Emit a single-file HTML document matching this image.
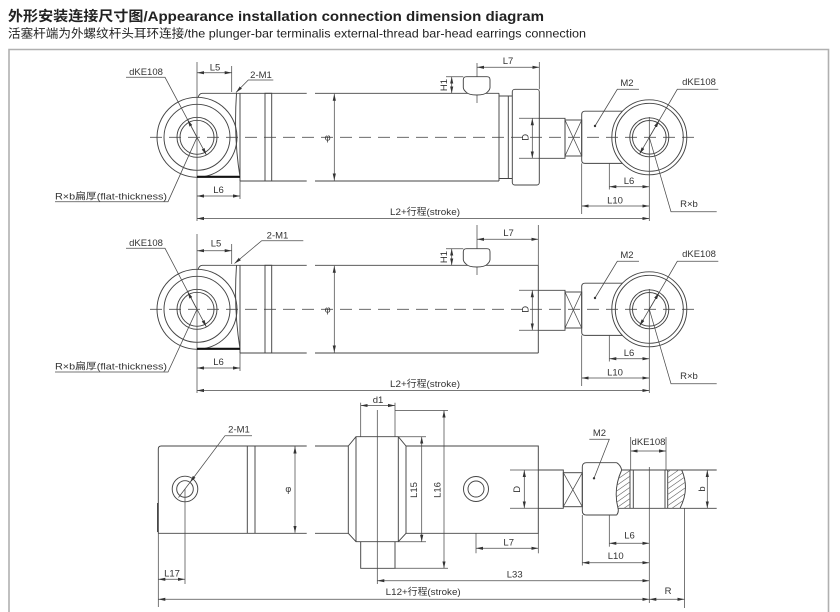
<!DOCTYPE html>
<html><head><meta charset="utf-8"><style>
html,body{margin:0;padding:0;background:#fff}
svg{display:block}
.o{stroke:#444;stroke-width:0.95;fill:none}
.t{stroke:#4a4a4a;stroke-width:0.75;fill:none}
.hh{stroke:#666;stroke-width:0.6;fill:none}
.dm{stroke:#4a4a4a;stroke-width:0.75;fill:none;marker-start:url(#a);marker-end:url(#a)}
.de{stroke:#4a4a4a;stroke-width:0.75;fill:none;marker-end:url(#a)}
.c{stroke:#555;stroke-width:0.8;stroke-dasharray:12 7;fill:none}
text{font-family:"Liberation Sans","Noto Sans CJK SC",sans-serif;font-size:9.5px;fill:#333}
.m{text-anchor:middle}
</style></head><body>
<svg width="840" height="612" viewBox="0 0 840 612" xmlns="http://www.w3.org/2000/svg">
<defs>
<marker id="a" viewBox="0 0 7 4" refX="7" refY="2" markerWidth="7" markerHeight="4" markerUnits="userSpaceOnUse" orient="auto-start-reverse"><path d="M0,0.4L7,2L0,3.6z" fill="#333"/></marker>
<clipPath id="h"><path d="M621.7,470 Q613,489 618,508.3 L630,508.3 L630,470Z M667.7,470 L681.7,470 Q690,489 680,508.3 L667.7,508.3Z"/></clipPath>
</defs>

<text x="8" y="21" font-size="14" font-weight="bold" style="font-size:14px;fill:#222" textLength="536" lengthAdjust="spacingAndGlyphs">外形安装连接尺寸图/Appearance installation connection dimension diagram</text>
<text x="8" y="37.5" style="font-size:12px;fill:#222" textLength="578" lengthAdjust="spacingAndGlyphs">活塞杆端为外螺纹杆头耳环连接/the plunger-bar terminalis external-thread bar-head earrings connection</text>

<path d="M9,612 V49.5 H828.5 V612" stroke="#b0b0b0" stroke-width="1.6" fill="none"/>

<g>
<line class="c" x1="150" y1="137.3" x2="700" y2="137.3"/>
<circle class="o" cx="197" cy="137.3" r="40"/>
<circle class="o" cx="197" cy="137.3" r="33"/>
<circle class="o" cx="197" cy="137.3" r="20"/>
<circle class="o" cx="197" cy="137.3" r="17"/>
<line class="t" x1="197" y1="62" x2="197" y2="221"/>
<path class="o" d="M198,97.6 Q199.2,93.3 202.5,93.3 L306.7,93.3 M315,93.3 L499,93.3 M240,93.3 L240,181 M306.7,181 L240,181 M315,181 L499,181 M236.5,93.3 Q233.5,137 240,176.8"/>
<line x1="197" y1="176.8" x2="240" y2="176.8" stroke="#111" stroke-width="2.2"/>
<rect class="o" x="265" y="93.3" width="6.7" height="87.7"/>
<line class="dm" x1="334.3" y1="93.8" x2="334.3" y2="180.5"/>
<text class="m" x="327.7" y="140.5" style="font-size:9px">φ</text>
<line class="t" x1="477" y1="63" x2="477" y2="103"/>
<path d="M463.3,87.5 L463.3,79.7 Q463.3,76.7 466.5,76.7 L487,76.7 Q490,76.7 490,79.7 L490,87.5 Q490,89.5 487.5,92 Q485,95 476.7,95 Q468.5,95 466,92 Q463.3,89.5 463.3,87.5Z" fill="#fff" stroke="#444" stroke-width="0.95"/>
<line class="t" x1="446" y1="76.7" x2="463.3" y2="76.7"/>
<line class="dm" x1="451.7" y1="76.7" x2="451.7" y2="93.3"/>
<text transform="translate(443.5,85) rotate(-90)" class="m" dy="3.4">H1</text>
<path class="o" d="M538.5,118.3 L565,118.3 L565,158.3 L538.5,158.3"/>
<line class="t" x1="519" y1="118.3" x2="538.5" y2="118.3"/>
<line class="t" x1="519" y1="158.3" x2="538.5" y2="158.3"/>
<line class="dm" x1="532.3" y1="118.3" x2="532.3" y2="158.3"/>
<text transform="translate(525,137.3) rotate(-90)" class="m" dy="3.4">D</text>
<rect class="o" x="565" y="120" width="16.7" height="36"/>
<path class="t" d="M565,120 L581.7,156 M581.7,120 L565,156"/>
<path class="o" d="M622.5,111.2 L585,111.2 Q581.7,111.2 581.7,114.5 L581.7,160.1 Q581.7,163.4 585,163.4 L622.5,163.4"/>
<circle class="o" cx="649.3" cy="137.3" r="37.5"/>
<circle class="o" cx="649.3" cy="137.3" r="34"/>
<circle class="o" cx="649.3" cy="137.3" r="19.5"/>
<circle class="o" cx="649.3" cy="137.3" r="16.8"/>
<line class="t" x1="649.3" y1="117" x2="649.3" y2="221"/>
<path class="t" d="M595,126 L617.3,89.3 L639,89.3"/>
<circle cx="595" cy="126" r="1.2" fill="#333"/>
<text class="m" x="627" y="86">M2</text>
<path class="t" d="M718.3,89.3 L677.3,89.3 L649.3,137.3"/>
<line class="de" x1="649.3" y1="137.3" x2="639.5" y2="154.1"/>
<line class="de" x1="649.3" y1="137.3" x2="659.1" y2="120.5"/>
<text class="m" x="699" y="85">dKE108</text>
<path class="t" d="M649.3,137.3 L671,211.7 L716.7,211.7"/>
<text class="m" x="689" y="207">R×b</text>
<line class="t" x1="609.3" y1="163.4" x2="609.3" y2="189.5"/>
<line class="dm" x1="609.3" y1="186.7" x2="649.3" y2="186.7"/>
<text class="m" x="629" y="184">L6</text>
<line class="t" x1="581.7" y1="163.4" x2="581.7" y2="214"/>
<line class="dm" x1="581.7" y1="206" x2="649.3" y2="206"/>
<text class="m" x="615" y="203.5">L10</text>
<line class="dm" x1="197" y1="218.5" x2="649.3" y2="218.5"/>
<text x="390" y="215" textLength="70" lengthAdjust="spacingAndGlyphs">L2+行程(stroke)</text>
<line class="t" x1="240" y1="181" x2="240" y2="199"/>
<line class="dm" x1="197" y1="196" x2="240" y2="196"/>
<text class="m" x="218.5" y="193">L6</text>
<text class="m" x="146" y="75">dKE108</text>
<path class="t" d="M126,77.3 L165,77.3 L197,137.3"/>
<line class="de" x1="197" y1="137.3" x2="187.6" y2="119.7"/>
<line class="de" x1="197" y1="137.3" x2="206.4" y2="154.9"/>
<text x="55" y="199.3" textLength="112" lengthAdjust="spacingAndGlyphs">R×b扁厚(flat-thickness)</text>
<path class="t" d="M55,201.7 L168,201.7 L197,137.3"/>
</g>

<line class="t" x1="231.7" y1="66" x2="231.7" y2="92"/>
<line class="dm" x1="197" y1="72.7" x2="231.7" y2="72.7"/>
<text class="m" x="215" y="70.3">L5</text>
<path class="de" d="M273.3,80 L248.3,80 L236,92.5"/>
<text class="m" x="261" y="78">2-M1</text>
<path class="o" d="M499,93.3 L499,181 M499,96 L512.3,96 M499,178.5 L512.3,178.5 M508.3,96 L508.3,178.5"/>
<rect class="o" x="512.3" y="89.3" width="27" height="95.7" rx="2.5"/>
<line class="t" x1="539.3" y1="62" x2="539.3" y2="89.3"/>
<line class="dm" x1="477" y1="67.3" x2="539.3" y2="67.3"/>
<text class="m" x="508" y="64">L7</text>

<g transform="translate(0,172)">
<line class="c" x1="150" y1="137.3" x2="700" y2="137.3"/>
<circle class="o" cx="197" cy="137.3" r="40"/>
<circle class="o" cx="197" cy="137.3" r="33"/>
<circle class="o" cx="197" cy="137.3" r="20"/>
<circle class="o" cx="197" cy="137.3" r="17"/>
<line class="t" x1="197" y1="62" x2="197" y2="221"/>
<path class="o" d="M198,97.6 Q199.2,93.3 202.5,93.3 L306.7,93.3 M315,93.3 L499,93.3 M240,93.3 L240,181 M306.7,181 L240,181 M315,181 L499,181 M236.5,93.3 Q233.5,137 240,176.8"/>
<line x1="197" y1="176.8" x2="240" y2="176.8" stroke="#111" stroke-width="2.2"/>
<rect class="o" x="265" y="93.3" width="6.7" height="87.7"/>
<line class="dm" x1="334.3" y1="93.8" x2="334.3" y2="180.5"/>
<text class="m" x="327.7" y="140.5" style="font-size:9px">φ</text>
<line class="t" x1="477" y1="53" x2="477" y2="103"/>
<path d="M463.3,87.5 L463.3,79.7 Q463.3,76.7 466.5,76.7 L487,76.7 Q490,76.7 490,79.7 L490,87.5 Q490,89.5 487.5,92 Q485,95 476.7,95 Q468.5,95 466,92 Q463.3,89.5 463.3,87.5Z" fill="#fff" stroke="#444" stroke-width="0.95"/>
<line class="t" x1="446" y1="76.7" x2="463.3" y2="76.7"/>
<line class="dm" x1="451.7" y1="76.7" x2="451.7" y2="93.3"/>
<text transform="translate(443.5,85) rotate(-90)" class="m" dy="3.4">H1</text>
<path class="o" d="M538.5,118.3 L565,118.3 L565,158.3 L538.5,158.3"/>
<line class="t" x1="519" y1="118.3" x2="538.5" y2="118.3"/>
<line class="t" x1="519" y1="158.3" x2="538.5" y2="158.3"/>
<line class="dm" x1="532.3" y1="118.3" x2="532.3" y2="158.3"/>
<text transform="translate(525,137.3) rotate(-90)" class="m" dy="3.4">D</text>
<rect class="o" x="565" y="120" width="16.7" height="36"/>
<path class="t" d="M565,120 L581.7,156 M581.7,120 L565,156"/>
<path class="o" d="M622.5,111.2 L585,111.2 Q581.7,111.2 581.7,114.5 L581.7,160.1 Q581.7,163.4 585,163.4 L622.5,163.4"/>
<circle class="o" cx="649.3" cy="137.3" r="37.5"/>
<circle class="o" cx="649.3" cy="137.3" r="34"/>
<circle class="o" cx="649.3" cy="137.3" r="19.5"/>
<circle class="o" cx="649.3" cy="137.3" r="16.8"/>
<line class="t" x1="649.3" y1="117" x2="649.3" y2="221"/>
<path class="t" d="M595,126 L617.3,89.3 L639,89.3"/>
<circle cx="595" cy="126" r="1.2" fill="#333"/>
<text class="m" x="627" y="86">M2</text>
<path class="t" d="M718.3,89.3 L677.3,89.3 L649.3,137.3"/>
<line class="de" x1="649.3" y1="137.3" x2="639.5" y2="154.1"/>
<line class="de" x1="649.3" y1="137.3" x2="659.1" y2="120.5"/>
<text class="m" x="699" y="85">dKE108</text>
<path class="t" d="M649.3,137.3 L671,211.7 L716.7,211.7"/>
<text class="m" x="689" y="207">R×b</text>
<line class="t" x1="609.3" y1="163.4" x2="609.3" y2="189.5"/>
<line class="dm" x1="609.3" y1="186.7" x2="649.3" y2="186.7"/>
<text class="m" x="629" y="184">L6</text>
<line class="t" x1="581.7" y1="163.4" x2="581.7" y2="214"/>
<line class="dm" x1="581.7" y1="206" x2="649.3" y2="206"/>
<text class="m" x="615" y="203.5">L10</text>
<line class="dm" x1="197" y1="218.5" x2="649.3" y2="218.5"/>
<text x="390" y="215" textLength="70" lengthAdjust="spacingAndGlyphs">L2+行程(stroke)</text>
<line class="t" x1="240" y1="181" x2="240" y2="199"/>
<line class="dm" x1="197" y1="196" x2="240" y2="196"/>
<text class="m" x="218.5" y="193">L6</text>
<text class="m" x="146" y="74">dKE108</text>
<path class="t" d="M126,76.3 L165,76.3 L197,137.3"/>
<line class="de" x1="197" y1="137.3" x2="187.6" y2="119.7"/>
<line class="de" x1="197" y1="137.3" x2="206.4" y2="154.9"/>
<text x="55" y="197.5" textLength="112" lengthAdjust="spacingAndGlyphs">R×b扁厚(flat-thickness)</text>
<path class="t" d="M55,200 L168,200 L197,137.3"/>
</g>

<path class="o" d="M499,265.3 L538.3,265.3 M499,353 L538.3,353 M538.3,265.3 L538.3,353"/>
<line class="t" x1="538.3" y1="225" x2="538.3" y2="265.3"/>
<line class="dm" x1="477" y1="239.3" x2="538.3" y2="239.3"/>
<text class="m" x="508.5" y="236">L7</text>
<line class="t" x1="231.7" y1="244" x2="231.7" y2="264"/>
<line class="dm" x1="197" y1="250.7" x2="231.7" y2="250.7"/>
<text class="m" x="216" y="246.7">L5</text>
<path class="de" d="M303.3,240.7 L261.7,240.7 L234.5,263.5"/>
<text class="m" x="277.5" y="238.3">2-M1</text>

<line class="t" x1="360.7" y1="402.7" x2="360.7" y2="436.7"/>
<line class="t" x1="395" y1="402.7" x2="395" y2="436.7"/>
<line class="dm" x1="360.7" y1="405.5" x2="395" y2="405.5"/>
<text class="m" x="378" y="403">d1</text>
<line class="t" x1="395" y1="410.5" x2="448" y2="410.5"/>
<path class="o" d="M348.3,446 L356,436.7 L398.3,436.7 L406,446 L406,533.3 L398.3,541.7 L356,541.7 L348.3,533.3Z M356,436.7 L356,541.7 M398.3,436.7 L398.3,541.7"/>
<path class="o" d="M360.7,541.7 L360.7,568.3 L395,568.3 L395,541.7"/>
<line class="t" x1="395" y1="568.3" x2="448" y2="568.3"/>
<line class="t" x1="377.3" y1="410" x2="377.3" y2="584"/>
<line class="t" x1="398.3" y1="436.7" x2="426" y2="436.7"/>
<line class="t" x1="398.3" y1="541.7" x2="426" y2="541.7"/>
<line class="dm" x1="421.7" y1="436.7" x2="421.7" y2="541.7"/>
<text transform="translate(413.5,490) rotate(-90)" class="m" dy="3.4">L15</text>
<line class="dm" x1="444" y1="410.5" x2="444" y2="568.3"/>
<text transform="translate(437,490) rotate(-90)" class="m" dy="3.4">L16</text>
<path class="o" d="M158.3,533.3 L158.3,449 Q158.3,446 161.3,446 L306.7,446 M315,446 L348.3,446 M158.3,533.3 L306.7,533.3 M315,533.3 L348.3,533.3 M247.3,446 L247.3,533.3 M255,446 L255,533.3"/>
<line x1="157.6" y1="503" x2="157.6" y2="532" stroke="#333" stroke-width="1"/>
<circle class="o" cx="185" cy="489" r="12.8"/>
<circle class="o" cx="185" cy="489" r="8.3"/>
<line class="t" x1="185" y1="489" x2="185" y2="584"/>
<path class="de" d="M252,435.7 L225,435.7 L190,482.4"/>
<line class="t" x1="190" y1="482.4" x2="178.5" y2="497.5"/>
<text class="m" x="239" y="432.7">2-M1</text>
<line class="t" x1="158.3" y1="533.3" x2="158.3" y2="607"/>
<line class="dm" x1="158.3" y1="579.3" x2="185" y2="579.3"/>
<text class="m" x="172" y="576.7">L17</text>
<line class="dm" x1="295" y1="446.5" x2="295" y2="532.8"/>
<text class="m" x="288.3" y="492" style="font-size:9px">φ</text>
<path class="o" d="M406,446 L538.3,446 L538.3,533.3 L406,533.3"/>
<line class="t" x1="538.3" y1="533.3" x2="538.3" y2="553.3"/>
<circle class="o" cx="476" cy="489" r="12.5"/>
<circle class="o" cx="476" cy="489" r="8"/>
<line class="t" x1="476" y1="533.3" x2="476" y2="553.3"/>
<line class="dm" x1="476" y1="548.3" x2="538.3" y2="548.3"/>
<text class="m" x="508.7" y="545.5">L7</text>
<path class="o" d="M538.3,470 L563.3,470 L563.3,508.3 L538.3,508.3"/>
<line class="t" x1="510" y1="470" x2="538.3" y2="470"/>
<line class="t" x1="510" y1="508.3" x2="538.3" y2="508.3"/>
<line class="dm" x1="524.3" y1="470" x2="524.3" y2="508.3"/>
<text transform="translate(516.7,489.3) rotate(-90)" class="m" dy="3.4">D</text>
<rect class="o" x="563.3" y="472.7" width="19" height="34"/>
<path class="t" d="M563.3,472.7 L582.3,506.7 M582.3,472.7 L563.3,506.7"/>
<path class="o" d="M616.7,462.7 L586.5,462.7 Q582.3,462.7 582.3,467 L582.3,510.7 Q582.3,515 586.5,515 L616.7,515 M616.7,462.7 Q620.5,465 621.7,470 Q613,489 618,508.3 Q619,512 616.7,515"/>
<path class="o" d="M621.7,470 L716.7,470 M618,508.3 L716.7,508.3 M681.7,470 Q690,489 680,508.3 M630,470 L630,508.3 M633.3,470 L633.3,508.3 M665,470 L665,508.3 M667.7,470 L667.7,508.3"/>
<g clip-path="url(#h)"><path class="hh" d="M560,508.3l55,-38.5M568,508.3l55,-38.5M576,508.3l55,-38.5M584,508.3l55,-38.5M592,508.3l55,-38.5M600,508.3l55,-38.5M608,508.3l55,-38.5M616,508.3l55,-38.5M624,508.3l55,-38.5M632,508.3l55,-38.5M640,508.3l55,-38.5M648,508.3l55,-38.5M656,508.3l55,-38.5M664,508.3l55,-38.5M672,508.3l55,-38.5M680,508.3l55,-38.5M688,508.3l55,-38.5"/></g>
<line class="t" x1="649.3" y1="467" x2="649.3" y2="603"/>
<line class="t" x1="630.7" y1="437" x2="630.7" y2="470"/>
<line class="t" x1="666" y1="437" x2="666" y2="470"/>
<line class="dm" x1="630.7" y1="451" x2="666" y2="451"/>
<text class="m" x="648.5" y="445" textLength="34" lengthAdjust="spacingAndGlyphs">dKE108</text>
<path class="t" d="M589.3,439.3 L609.3,439.3 L594,478.3"/>
<circle cx="594" cy="478.3" r="1.2" fill="#333"/>
<text class="m" x="599.5" y="436">M2</text>
<line class="dm" x1="707.3" y1="470" x2="707.3" y2="508.3"/>
<text transform="translate(701.7,489) rotate(-90)" class="m" dy="3.4">b</text>
<line class="t" x1="609.3" y1="515" x2="609.3" y2="546.7"/>
<line class="dm" x1="609.3" y1="543.3" x2="649.3" y2="543.3"/>
<text class="m" x="629.5" y="538.3">L6</text>
<line class="t" x1="582.3" y1="515" x2="582.3" y2="565.5"/>
<line class="dm" x1="582.3" y1="562.7" x2="649.3" y2="562.7"/>
<text class="m" x="615.7" y="559">L10</text>
<line class="dm" x1="377.3" y1="580.7" x2="649.3" y2="580.7"/>
<text class="m" x="514.7" y="577.3">L33</text>
<line class="dm" x1="158.3" y1="599.3" x2="649.3" y2="599.3"/>
<text x="385.7" y="595" textLength="75" lengthAdjust="spacingAndGlyphs">L12+行程(stroke)</text>
<line class="t" x1="684.5" y1="508.3" x2="684.5" y2="608"/>
<line class="dm" x1="649.3" y1="599.3" x2="684.5" y2="599.3"/>
<text class="m" x="668" y="594">R</text>
</svg>
</body></html>
